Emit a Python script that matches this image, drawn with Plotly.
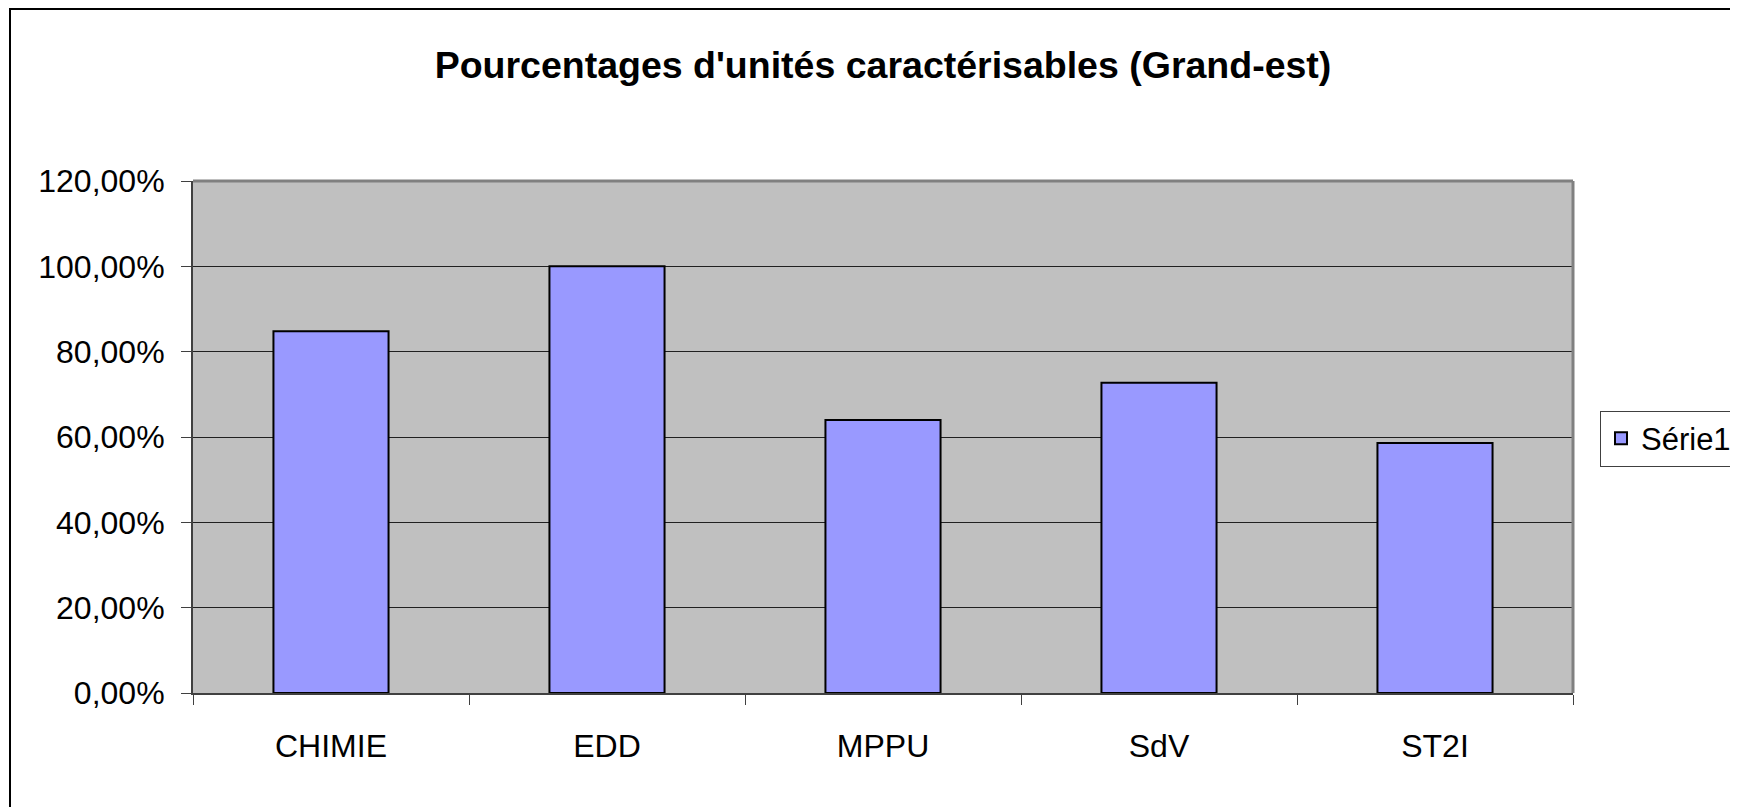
import plotly.graph_objects as go

categories = ["CHIMIE", "EDD", "MPPU", "SdV", "ST2I"]
values = [0.848, 1.0, 0.640, 0.727, 0.586]
series_name = "Série1"
title = "Pourcentages d'unités caractérisables (Grand-est)"
y_ticks = [0, 0.2, 0.4, 0.6, 0.8, 1.0, 1.2]

OFF = 8  # page body margin
W, H = 1738 - OFF, 807 - OFF
L, R, T, B = 193 - OFF, 1573 - OFF, 181 - OFF, 693 - OFF
pw, ph = R - L, B - T

def px(x):
    return (x - OFF - L) / pw

def py(y):
    return (B - (y - OFF)) / ph

FONT = "Liberation Sans, Arial, sans-serif"

fig = go.Figure()
fig.add_trace(go.Bar(
    x=categories, y=values, name=series_name,
    marker=dict(color="#9999FF", line=dict(color="black", width=2)),
    width=0.417, showlegend=True,
))

fig.update_layout(
    width=W, height=H,
    margin=dict(l=L, r=W - R, t=T, b=H - B, pad=0, autoexpand=False),
    paper_bgcolor="white", plot_bgcolor="#C0C0C0",
    separators=", ",
    font=dict(family=FONT, color="black", size=32),
    title=dict(text="<b>" + title + "</b>", x=px(883), xref="paper", xanchor="center",
               y=1 - (65 - OFF) / H, yanchor="middle", font=dict(size=37.5, family=FONT)),
    showlegend=True,
    legend=dict(x=px(1600), y=py(438.5), xanchor="left", yanchor="middle",
                bgcolor="white", bordercolor="#404040", borderwidth=1,
                font=dict(size=31, family=FONT), itemwidth=30, tracegroupgap=0),
)
fig.update_yaxes(range=[0, 1.2], tickvals=y_ticks, tickformat=".2%",
                 showgrid=True, gridcolor="#202020", gridwidth=1,
                 showline=True, linecolor="#404040", linewidth=2,
                 ticks="outside", ticklen=10, tickcolor="#404040",
                 zeroline=False, fixedrange=True, ticklabelstandoff=10,
                 automargin=False)
fig.update_xaxes(showline=True, linecolor="#404040", linewidth=2,
                 ticks="outside", ticklen=10, tickcolor="#404040", tickson="boundaries",
                 showgrid=False, fixedrange=True, ticklabelstandoff=24,
                 automargin=False)

# plot area border (top/right, gray)
fig.add_shape(type="line", xref="paper", yref="paper", x0=0, x1=1, y0=1, y1=1,
              line=dict(color="#808080", width=3))
fig.add_shape(type="line", xref="paper", yref="paper", x0=1, x1=1, y0=0, y1=1,
              line=dict(color="#808080", width=3))
# outer chart border
fig.add_shape(type="rect", xref="paper", yref="paper",
              x0=px(10), x1=px(1760), y0=py(830), y1=py(9),
              line=dict(color="black", width=2), layer="above")

fig.write_html("out.html")
